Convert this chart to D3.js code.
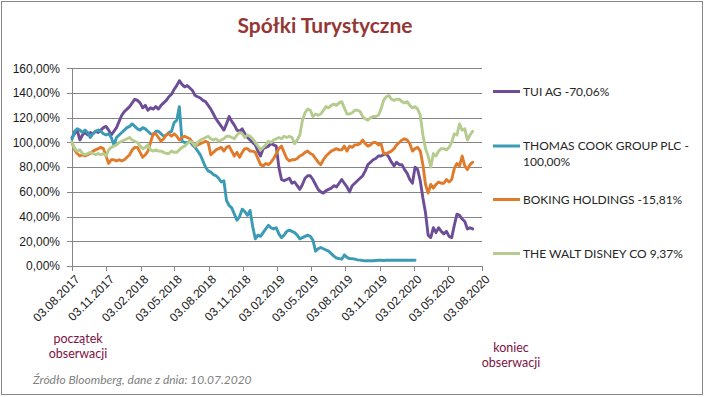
<!DOCTYPE html>
<html>
<head>
<meta charset="utf-8">
<title>Spółki Turystyczne</title>
<script src="https://d3js.org/d3.v7.min.js"></script>
<style>
  body { margin: 0; background: #fff; }
  svg { display: block; font-family: Lato, "Open Sans", sans-serif; }
  .grid line { stroke: #868686; stroke-width: 1px; shape-rendering: crispEdges; }
  .axis path, .axis line { stroke: #868686; shape-rendering: crispEdges; }
  .axis text { fill: #1a1a1a; font-size: 12px; }
  .series { fill: none; stroke-width: 2.9px; stroke-linejoin: round; stroke-linecap: round; }
  .legend text { fill: #262626; font-size: 12px; }
  .note { fill: #7e1242; font-size: 12.5px; text-anchor: middle; }
</style>
</head>
<body>
<svg width="704" height="397"></svg>
<script>
// weekly closes, % of value on 03.08.2017
var startDate = "03.08.2017";
var tui = [
  104,107,110,102,106,108,106,108,107,109,
  108,110,112,113,110,106,109,112,117,122,
  125,127,129,132,135,134,132,128,130,126,
  128,127,129,127,130,132,134,137,139,143,
  146,150,147,145,146,144,142,138,137,136,
  134,133,130,127,123,119,116,113,110,115,
  121,117,114,110,109,111,107,104,102,100,
  98,93,89,95,96,97,99,98,97,80,
  70,69,70,71,67,68,65,62,66,71,
  73,73,70,66,62,60,59,61,62,63,
  65,64,67,70,67,64,60,65,67,69,
  71,73,77,82,84,86,87,89,89,90,
  91,88,84,81,84,82,82,78,75,70,
  67,80,78,69,55,43,25,23,31,27,
  31,28,26,28,24,23,33,42,41,38,
  36,30,31,30
];
var thomasCook = [
  102.5,109,111,110,108,110,108,104,107,109,
  110,109,107,106,107,104,98,104,106,108,
  110,112,113,115,113,111,110,112,111,109,
  107,106,109,109,107,105,106,108,109,116,
  118,129,101,100,100,101,98,96,93,90,
  85,80,77,76,74,73,71,68,69,53,
  49,47,42,37,40,46,44,41,45,32,
  22,25,24,27,30,33,31,30,31,26,
  23,25,28,29,28,27,25,22,23,24,
  25,24,21,12,14,15,14,13,12,10,
  8,6.5,6,5.5,9,7,6,6,5.5,5,
  4.8,4.5,4.3,4.2,4.2,4.3,4.5,4.6,4.6,4.5,
  4.6,4.6,4.7,4.6,4.6,4.7,4.6,4.6,4.7,4.6,
  4.6,4.6
];
var boking = [
  100,94,91,89,90,89,90,91,93,94,
  95,96,95,89,83,86,86,85,86,85,
  86,88,90,94,96,96,92,88,90,93,
  100,107,107,104,101,103,106,107,105,107,
  105,102,104,105,104,103,100,97,98,99,
  100,101,100,90,92,94,95,96,93,96,
  97,93,89,92,88,92,95,95,93,93,
  92,87,82,81,83,82,84,87,91,95,
  97,92,87,85,86,86,87,89,90,92,
  93,91,90,87,84,82,86,89,91,93,
  94,95,94,94,97,93,97,96,98,98,
  99,102,99,97,98,100,100,98,99,91,
  91,92,93,95,98,100,102,103,102,99,
  93,95,96,93,82,66,59,66,63,66,
  68,67,67,70,68,70,79,83,81,89,
  81,78,82,84
];
var disney = [
  100,95,93,94,91,90,91,92,91,90,
  91,90,91,89,94,96,97,98,100,101,
  102,103,104,102,101,100,97,95,96,98,
  94,93,94,93,93,92,91,91,93,92,
  92,94,96,97,99,101,100,97,100,102,
  103,104,105,103,102,103,101,102,103,105,
  105,104,103,106,108,107,104,106,105,103,
  100,97,94,96,98,101,100,102,103,104,
  103,105,104,105,104,99,102,106,118,124,
  127,126,121,123,122,123,126,129,128,130,
  131,130,132,133,128,123,123,124,126,126,
  125,121,119,118,120,121,121,122,127,134,
  137,138,135,134,135,135,133,132,133,130,
  128,129,127,122,106,95,89,80,91,89,
  93,95,95,94,96,100,107,106,115,110,
  111,102,106,109
];

var seriesNames = ["TUI AG -70,06%", "THOMAS COOK GROUP PLC - 100,00%", "BOKING HOLDINGS -15,81%", "THE WALT DISNEY CO 9,37%"];
var seriesColors = ["#6d4e96", "#3b9ab4", "#e07b2c", "#b5cc8e"];
var xTickLabels = ["03.08.2017","03.11.2017","03.02.2018","03.05.2018","03.08.2018","03.11.2018",
  "03.02.2019","03.05.2019","03.08.2019","03.11.2019","03.02.2020","03.05.2020","03.08.2020"];
var yTicks = [0, 20, 40, 60, 80, 100, 120, 140, 160];

var parse = d3.timeParse("%d.%m.%Y");
var fmt = d3.timeFormat("%d.%m.%Y");
var t0 = parse(startDate);
var tickDates = xTickLabels.map(parse);

var svg = d3.select("svg");

svg.append("rect")
  .attr("x", 1.5).attr("y", 1.5)
  .attr("width", 701).attr("height", 393)
  .attr("fill", "none").attr("stroke", "#868686");

var x = d3.scaleTime()
  .domain([tickDates[0], tickDates[tickDates.length - 1]])
  .range([72, 482]);
var y = d3.scaleLinear().domain([0, 160]).range([266, 68.3]);

// gridlines
svg.append("g").attr("class", "grid")
  .selectAll("line").data(yTicks.slice(1)).enter().append("line")
  .attr("x1", 72).attr("x2", 482)
  .attr("y1", function(d) { return Math.round(y(d)) + 0.5; })
  .attr("y2", function(d) { return Math.round(y(d)) + 0.5; });

svg.append("g").attr("class", "axis")
  .attr("transform", "translate(72,0)")
  .call(d3.axisLeft(y).tickValues(yTicks).tickSize(5).tickPadding(7)
    .tickFormat(function(d) { return d.toFixed(2).replace(".", ",") + "%"; }));

var xAxis = svg.append("g").attr("class", "axis")
  .attr("transform", "translate(0,266)")
  .call(d3.axisBottom(x).tickValues(tickDates).tickSize(5).tickSizeOuter(0).tickFormat(fmt));
xAxis.selectAll("text")
  .attr("text-anchor", "end")
  .attr("transform", "translate(5,11) rotate(-45)")
  .attr("x", 0).attr("y", 0).attr("dy", "0.35em");

// series lines
var allSeries = [tui, thomasCook, boking, disney];
var line = d3.line()
  .x(function(d, i) { return x(d3.timeDay.offset(t0, 7 * i)); })
  .y(function(d) { return y(d); });

svg.append("g").selectAll("path")
  .data(allSeries).enter().append("path")
  .attr("class", "series")
  .attr("stroke", function(d, i) { return seriesColors[i]; })
  .attr("d", line);

// legend
var legendY = [91.5, 146, 199.5, 253.5];
var legend = svg.append("g").attr("class", "legend");
seriesNames.forEach(function(name, i) {
  legend.append("line")
    .attr("x1", 493).attr("x2", 520)
    .attr("y1", legendY[i]).attr("y2", legendY[i])
    .attr("stroke", seriesColors[i]).attr("stroke-width", 3);
  var parts = name === seriesNames[1] ? ["THOMAS COOK GROUP PLC -", "100,00%"] : [name];
  parts.forEach(function(p, j) {
    legend.append("text")
      .attr("x", 523).attr("y", legendY[i] + 4 + j * 16)
      .text(p);
  });
});

// title
svg.append("text")
  .attr("x", 325).attr("y", 33)
  .attr("text-anchor", "middle")
  .attr("fill", "#953735")
  .attr("font-size", "21px").attr("font-weight", "bold")
  .text("Spółki Turystyczne");

// notes
svg.append("text").attr("class", "note").attr("x", 78).attr("y", 343).text("początek");
svg.append("text").attr("class", "note").attr("x", 78).attr("y", 358).text("obserwacji");
svg.append("text").attr("class", "note").attr("x", 511).attr("y", 352).text("koniec");
svg.append("text").attr("class", "note").attr("x", 511).attr("y", 367).text("obserwacji");

svg.append("text")
  .attr("x", 33).attr("y", 384)
  .attr("fill", "#808080").attr("font-size", "12px").attr("font-style", "italic")
  .text("Źródło Bloomberg, dane z dnia: 10.07.2020");
</script>
</body>
</html>
